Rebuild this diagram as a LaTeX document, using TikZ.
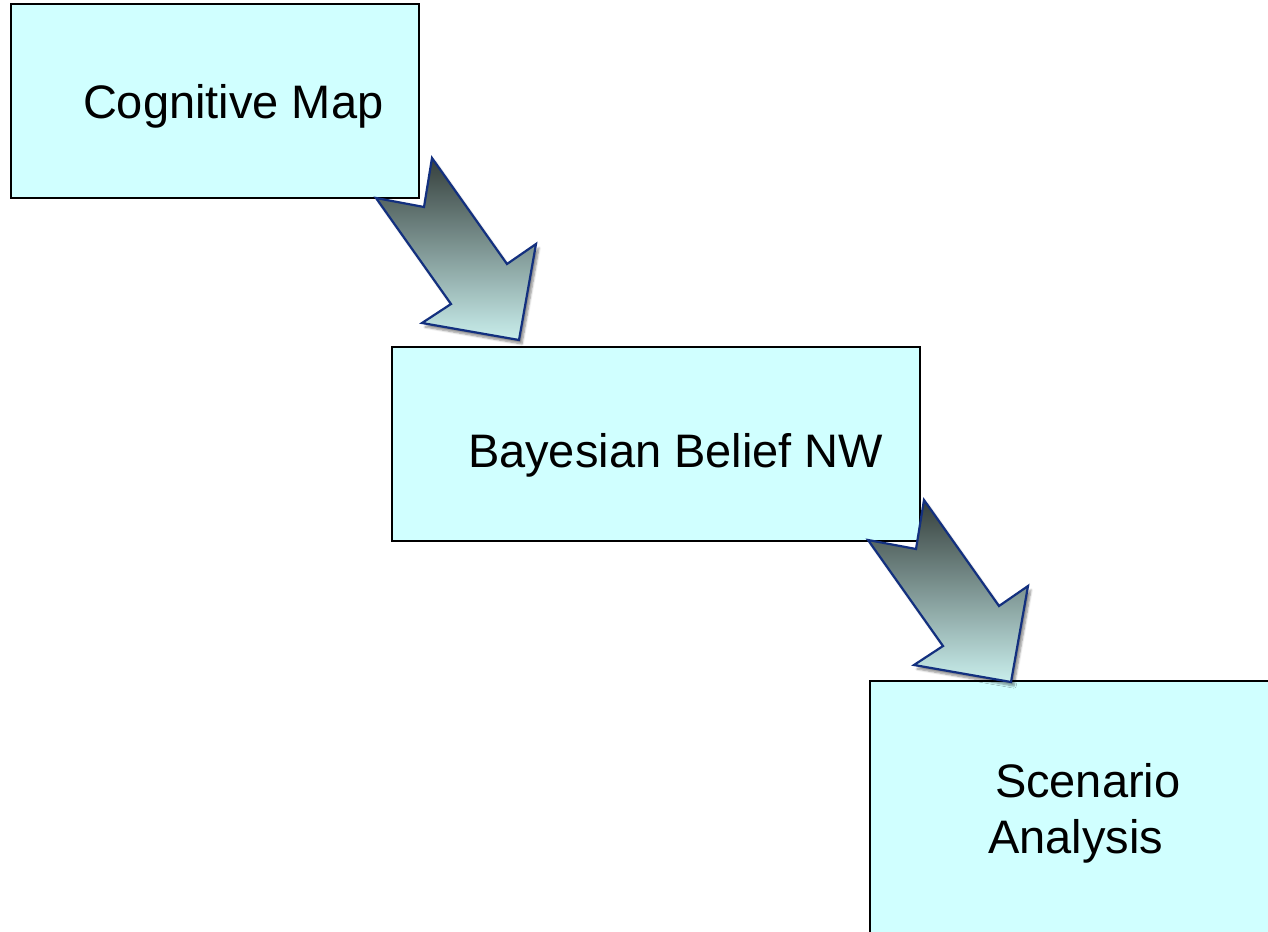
\documentclass[tikz,border=0pt]{standalone}
\usepackage{fontspec}
\setmainfont{Liberation Sans}
\usetikzlibrary{calc,shadows.blur}

\definecolor{boxfill}{HTML}{D0FFFF}
\definecolor{arrowline}{HTML}{13307F}
\definecolor{arrowtop}{HTML}{353F3C}
\definecolor{arrowmid}{HTML}{7FA3A1}
\definecolor{arrowbot}{HTML}{C9EEEC}

\tikzset{
  stagebox/.style={draw=black, line width=1.4pt, fill=boxfill, rectangle,
    inner sep=0pt, outer sep=0pt, anchor=north west},
  stagetext/.style={inner sep=0pt, outer sep=0pt, anchor=base west,
    font=\fontsize{47}{56}\selectfont},
  arrowbody/.style={draw=arrowline, line width=2.2pt, line join=miter,
    top color=arrowtop, middle color=arrowmid, bottom color=arrowbot,
    blur shadow={shadow xshift=3pt, shadow yshift=-4pt,
      shadow blur steps=6, shadow opacity=45}},
  pics/blockarrow/.style={code={
    \path[arrowbody] (0,0) -- (-8,49) -- (-56,40) -- (19,146) -- (-10,165)
      -- (87,182) -- (104,86) -- (75,106) -- cycle;
  }}
}

\begin{document}
\begin{tikzpicture}[x=1pt, y=-1pt]
  \useasboundingbox (0,0) rectangle (1268,931);
  \clip (0,0) rectangle (1268,931);

  % the three stages
  \node[stagebox, minimum width=408pt, minimum height=194pt] (cog) at (11,4) {};
  \node[stagebox, minimum width=528pt, minimum height=194pt] (bay) at (392,347) {};
  \node[stagebox, minimum width=420pt, minimum height=270pt] (scen) at (870,681) {};

  % labels
  \node[stagetext] (cogtxt) at ($(cog.north west)+(72,114)$) {Cognitive Map};
  \node[stagetext] (baytxt) at ($(bay.north west)+(76,120)$) {Bayesian Belief NW};
  \node[stagetext] (scentxta) at ($(scen.north west)+(125,116)$) {Scenario};
  \node[stagetext] (scentxtb) at ($(scen.north west)+(118,172)$) {Analysis};

  % block arrows between the stages
  \pic at ($(cog.south east)+(13,-40)$) {blockarrow};
  \pic at ($(bay.south east)+(4,-41)$) {blockarrow};
\end{tikzpicture}
\end{document}
